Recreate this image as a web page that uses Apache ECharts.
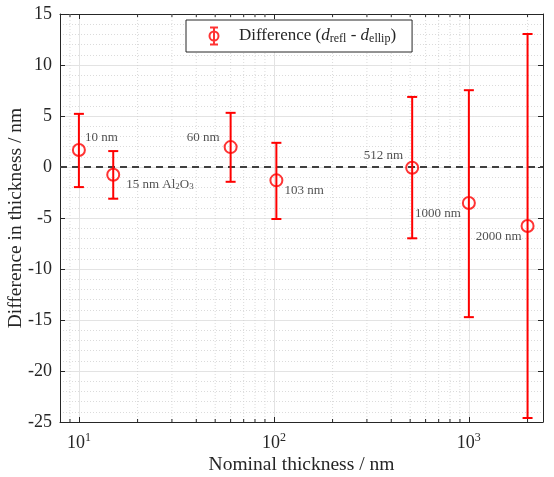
<!DOCTYPE html>
<html><head><meta charset="utf-8">
<script src="https://cdn.jsdelivr.net/npm/echarts@6/dist/echarts.min.js"></script>
<style>html,body{margin:0;padding:0;background:#fff}#c{width:554px;height:477px}</style>
</head><body><div id="c"></div>
<script>
// ---- data ----
const thickness = [10, 15, 60, 103, 512, 1000, 2000];
const difference = [1.66, -0.76, 1.95, -1.31, -0.08, -3.53, -5.78];
const errLow = [-1.97, -3.11, -1.45, -5.10, -6.99, -14.72, -24.61];
const errHigh = [5.21, 1.56, 5.31, 2.37, 6.87, 7.53, 13.04];
const sampleLabels = ['{t|10 nm}', '{t|15 nm Al}{s|2}{t|O}{s|3}', '{t|60 nm}', '{t|103 nm}', '{t|512 nm}', '{t|1000 nm}', '{t|2000 nm}'];
const xMinorTicks = [9, 20, 30, 40, 50, 60, 70, 80, 90, 200, 300, 400, 500, 600, 700, 800, 900, 2000];
const xRange = [8, 2400];
const yRange = [-25, 15];
const yStep = 5;
const legendName = 'Difference';
const xTitle = 'Nominal thickness / nm';
const yTitle = 'Difference in thickness / nm';

// ---- styling ----
const FONT = 'Liberation Serif';
const AX = '#262626';
const RED = '#ff0000';
// label placement (px relative to marker centre)
const labelPlace = [
  {align: 'left', dx: 7, dy: -12},
  {align: 'left', dx: 14, dy: 10},
  {align: 'right', dx: -10, dy: -10},
  {align: 'left', dx: 9, dy: 10},
  {align: 'right', dx: -8, dy: -12},
  {align: 'right', dx: -7, dy: 11},
  {align: 'right', dx: -5, dy: 11}
];
const SYM = 12;

const chart = echarts.init(document.getElementById('c'), null, {renderer: 'canvas'});

const xLabelFmt = function (v) {
  const e = Math.round(Math.log10(v));
  if (Math.abs(Math.pow(10, e) - v) > 1e-6 * v) return '';
  return '{b|10}{e|' + e + '}';
};

const baseX = {
  type: 'log', logBase: 10, min: xRange[0], max: xRange[1],
  axisLine: {show: true, onZero: false, lineStyle: {color: AX, width: 1}},
  axisTick: {show: true, inside: true, length: 5, lineStyle: {color: AX}},
  splitLine: {show: false},
  axisLabel: {show: false}
};
const baseY = {
  type: 'value', min: yRange[0], max: yRange[1], interval: yStep,
  axisLine: {show: true, onZero: false, lineStyle: {color: AX, width: 1}},
  axisTick: {show: true, inside: true, length: 5, lineStyle: {color: AX}},
  splitLine: {show: false},
  axisLabel: {show: false}
};

const option = {
  animation: false,
  backgroundColor: '#fff',
  grid: {left: 60, right: 11, top: 14, bottom: 55, containLabel: false, outerBoundsMode: 'none'},
  legend: {
    left: 186, top: 20,
    data: [{name: legendName, icon: 'path://M1,0L9,0M5,0L5,17M1,17L9,17M9.5,8.5A4.5,4.5,0,1,1,0.5,8.5A4.5,4.5,0,1,1,9.5,8.5'}],
    itemWidth: 10, itemHeight: 17,
    itemStyle: {color: 'none', borderColor: RED, borderWidth: 2},
    backgroundColor: '#fff', borderColor: AX, borderWidth: 1, borderRadius: 0,
    padding: [5, 16, 5, 21],
    formatter: function () {
      return '{tf|Difference (}{i|d}{s|refl}{t| - }{i|d}{s|ellip}{t|)}';
    },
    textStyle: {
      fontFamily: FONT, color: AX, fontSize: 17,
      rich: {
        tf: {fontFamily: FONT, fontSize: 17, color: AX, lineHeight: 17, verticalAlign: 'bottom', padding: [0, 0, 0, 15]},
        t: {fontFamily: FONT, fontSize: 17, color: AX, lineHeight: 17, verticalAlign: 'bottom'},
        i: {fontFamily: FONT, fontStyle: 'italic', fontSize: 17, color: AX, lineHeight: 17, verticalAlign: 'bottom'},
        s: {fontFamily: FONT, fontSize: 12, color: AX, lineHeight: 5, verticalAlign: 'bottom'}
      }
    }
  },
  xAxis: [
    Object.assign({}, baseX, {
      position: 'bottom',
      splitLine: {show: true, lineStyle: {color: '#e3e3e3', width: 1}},
      axisLabel: {
        show: true, margin: 10, showMinLabel: false, showMaxLabel: false,
        formatter: xLabelFmt,
        rich: {
          b: {fontFamily: FONT, fontSize: 18, color: AX, verticalAlign: 'bottom', lineHeight: 20},
          e: {fontFamily: FONT, fontSize: 12, color: AX, verticalAlign: 'top', lineHeight: 12}
        }
      },
      name: xTitle, nameLocation: 'middle', nameGap: 33, nameMoveOverlap: false,
      nameTextStyle: {fontFamily: FONT, fontSize: 19.5, color: AX}
    }),
    Object.assign({}, baseX, {position: 'top'})
  ],
  yAxis: [
    Object.assign({}, baseY, {
      position: 'left',
      splitLine: {show: true, lineStyle: {color: '#e3e3e3', width: 1}},
      minorTick: {show: false, splitNumber: 5},
      minorSplitLine: {show: true, lineStyle: {color: '#d2d2d2', width: 0.8, type: [1, 2]}},
      axisLabel: {show: true, margin: 8, fontFamily: FONT, fontSize: 18, color: AX},
      name: yTitle, nameLocation: 'middle', nameGap: 34, nameMoveOverlap: false,
      nameTextStyle: {fontFamily: FONT, fontSize: 19.5, color: AX}
    }),
    Object.assign({}, baseY, {position: 'right'})
  ],
  series: [
    {
      name: 'minorX', type: 'custom', xAxisIndex: 0, yAxisIndex: 0, silent: true, z: 1,
      data: xMinorTicks.map(v => [v, yRange[0]]),
      encode: {x: 0, y: 1},
      renderItem: function (params, api) {
        const v = api.value(0);
        const top = api.coord([v, yRange[1]]);
        const bot = api.coord([v, yRange[0]]);
        return {type: 'group', children: [
          {type: 'line', shape: {x1: top[0], y1: top[1], x2: bot[0], y2: bot[1]}, style: {stroke: '#d2d2d2', lineWidth: 0.8, lineDash: [1, 2]}},
          {type: 'line', shape: {x1: bot[0], y1: bot[1], x2: bot[0], y2: bot[1] - 3}, style: {stroke: AX, lineWidth: 1}},
          {type: 'line', shape: {x1: top[0], y1: top[1], x2: top[0], y2: top[1] + 3}, style: {stroke: AX, lineWidth: 1}}
        ]};
      }
    },
    {
      name: 'errorbars', type: 'custom', xAxisIndex: 0, yAxisIndex: 0, silent: true, z: 4,
      data: thickness.map((x, i) => [x, errLow[i], errHigh[i]]),
      encode: {x: 0, y: [1, 2]},
      renderItem: function (params, api) {
        const x = api.value(0);
        const lo = api.coord([x, api.value(1)]);
        const hi = api.coord([x, api.value(2)]);
        const w = 5;
        const st = {stroke: RED, lineWidth: 2};
        return {type: 'group', children: [
          {type: 'line', shape: {x1: lo[0], y1: lo[1], x2: hi[0], y2: hi[1]}, style: st},
          {type: 'line', shape: {x1: lo[0] - w, y1: lo[1], x2: lo[0] + w, y2: lo[1]}, style: st},
          {type: 'line', shape: {x1: hi[0] - w, y1: hi[1], x2: hi[0] + w, y2: hi[1]}, style: st}
        ]};
      }
    },
    {
      name: legendName, type: 'scatter', xAxisIndex: 0, yAxisIndex: 0, z: 5,
      symbol: 'circle', symbolSize: SYM,
      itemStyle: {color: 'rgba(0,0,0,0)', borderColor: RED, borderWidth: 2},
      data: thickness.map((x, i) => ({
        value: [x, difference[i]],
        label: {
          show: true,
          formatter: sampleLabels[i],
          position: [SYM / 2 + labelPlace[i].dx, SYM / 2 + labelPlace[i].dy],
          align: labelPlace[i].align, verticalAlign: 'middle',
          rich: {
            t: {fontFamily: FONT, fontSize: 13, color: AX, lineHeight: 15, verticalAlign: 'bottom'},
            s: {fontFamily: FONT, fontSize: 9, color: AX, lineHeight: 7, verticalAlign: 'bottom'}
          }
        }
      })),
      markLine: {
        silent: true, symbol: 'none', label: {show: false},
        lineStyle: {color: '#404040', width: 2, type: [7, 5]},
        data: [{yAxis: 0}],
        z: 3
      }
    }
  ]
};
chart.setOption(option);
</script>
</body></html>
